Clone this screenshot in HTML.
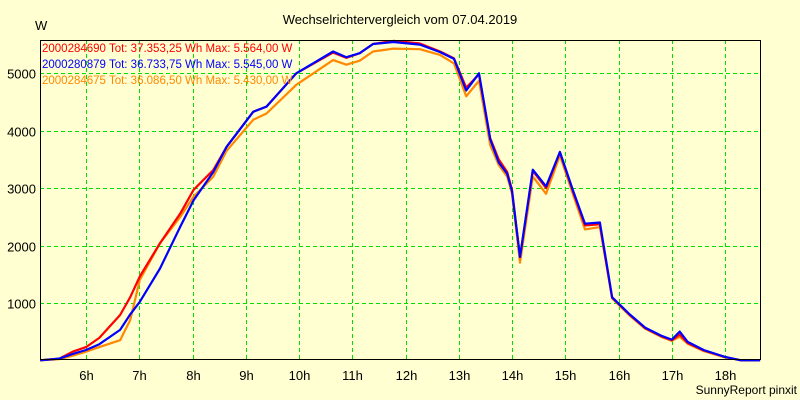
<!DOCTYPE html>
<html><head><meta charset="utf-8"><style>
html,body{margin:0;padding:0;background:#ffffd2;}
svg{display:block;font-family:"Liberation Sans",sans-serif;}
</style></head><body>
<svg id="chart" width="800" height="400" viewBox="0 0 800 400">
<rect x="0" y="0" width="800" height="400" fill="#ffffd2"/>
<text x="400" y="24" text-anchor="middle" font-size="13">Wechselrichtervergleich vom 07.04.2019</text>
<text x="35" y="30" font-size="13">W</text>
<text x="797" y="394" text-anchor="end" font-size="12">SunnyReport pinxit</text>
<g id="grid"></g>
<g id="series"></g>
<g id="axes"></g>
<g id="legend"></g>
</svg>
<script>
const times=[5.14,5.5,5.75,6.0,6.25,6.64,6.83,7.01,7.39,7.77,8.02,8.39,8.64,9.14,9.39,9.95,10.64,10.89,11.14,11.39,11.77,12.27,12.65,12.91,13.14,13.38,13.59,13.75,13.91,14.0,14.15,14.39,14.64,14.9,15.15,15.37,15.65,15.88,16.2,16.5,16.8,17.0,17.15,17.3,17.6,18.0,18.3,18.66];
const redValues=[0,30,150,230,390,790,1100,1460,2040,2560,2970,3315,3720,4330,4420,5000,5360,5270,5350,5510,5564,5520,5380,5260,4750,4980,3870,3500,3280,2970,1800,3300,3000,3620,2930,2350,2370,1090,800,560,420,350,450,300,170,60,0,0];
const blueValues=[0,30,110,180,280,530,800,1020,1600,2330,2790,3280,3720,4330,4420,5000,5380,5280,5350,5510,5545,5500,5370,5250,4700,5000,3850,3450,3250,2950,1800,3320,3030,3630,2950,2380,2400,1100,810,570,430,360,500,320,180,60,0,0];
const orangeValues=[0,20,80,150,230,350,700,1400,2040,2500,2850,3200,3650,4190,4300,4800,5230,5150,5220,5380,5430,5420,5320,5170,4600,4870,3750,3400,3200,2900,1700,3200,2900,3570,2880,2280,2320,1080,790,550,410,340,410,290,160,50,0,0];
const yTicks=[1000,2000,3000,4000,5000];
const xTicks=[6,7,8,9,10,11,12,13,14,15,16,17,18];
const legendLabels=["2000284690 Tot: 37.353,25 Wh Max: 5.564,00 W","2000280879 Tot: 36.733,75 Wh Max: 5.545,00 W","2000284675 Tot: 36.086,50 Wh Max: 5.430,00 W"];

const L=40,R=760,T=40,B=359;
const xs=h=>86+(h-6)*53.25;
const ys=v=>360.3-v*0.0574;
const NS="http://www.w3.org/2000/svg";
function mk(tag,attrs,parent){const e=document.createElementNS(NS,tag);for(const k in attrs)e.setAttribute(k,attrs[k]);parent.appendChild(e);return e;}
const grid=document.getElementById('grid'),axes=document.getElementById('axes'),series=document.getElementById('series'),legend=document.getElementById('legend');
yTicks.forEach(v=>{
  const y=Math.round(ys(v))+0.5;
  const g=mk('line',{x1:L,x2:R,y1:y,y2:y,stroke:'#00e000','stroke-dasharray':'4,3','stroke-width':1},grid);
  
  
  const t=mk('text',{x:36,y:y+5,'text-anchor':'end','font-size':13},axes);
  t.textContent=v;
  
  
});
xTicks.forEach(h=>{
  const x=Math.round(xs(h))+0.5;
  const g=mk('line',{x1:x,x2:x,y1:T,y2:B,stroke:'#00e000','stroke-dasharray':'4,3','stroke-width':1},grid);
  
  
  const t=mk('text',{x:x,y:380,'text-anchor':'middle','font-size':13},axes);
  t.textContent=h+'h';
  
  
});
const cols=['#ff0000','#0000ff','#ff8800'];
const data=[orangeValues,redValues,blueValues];
const dcols=['#ff8800','#ff0000','#0000ff'];
const names=['series-2000284675','series-2000284690','series-2000280879'];
data.forEach((vals,i)=>{
  const pts=times.map((t,j)=>xs(t).toFixed(1)+','+ys(vals[j]).toFixed(1)).join(' ');
  const p=mk('polyline',{points:pts,fill:'none',stroke:dcols[i],'stroke-width':2.2,'stroke-linejoin':'round'},series);
  
  
});
const ax=mk('path',{d:`M${L+0.5},${T} V${B+0.5} H${R+0.5} V${T+0.5} H${L}`,fill:'none',stroke:'#000','stroke-width':1},axes);


legendLabels.forEach((s,i)=>{
  const t=mk('text',{x:42,y:52+i*16,'font-size':11.5,fill:cols[i]},legend);
  t.textContent=s;
  
  
});
</script>
</body></html>
